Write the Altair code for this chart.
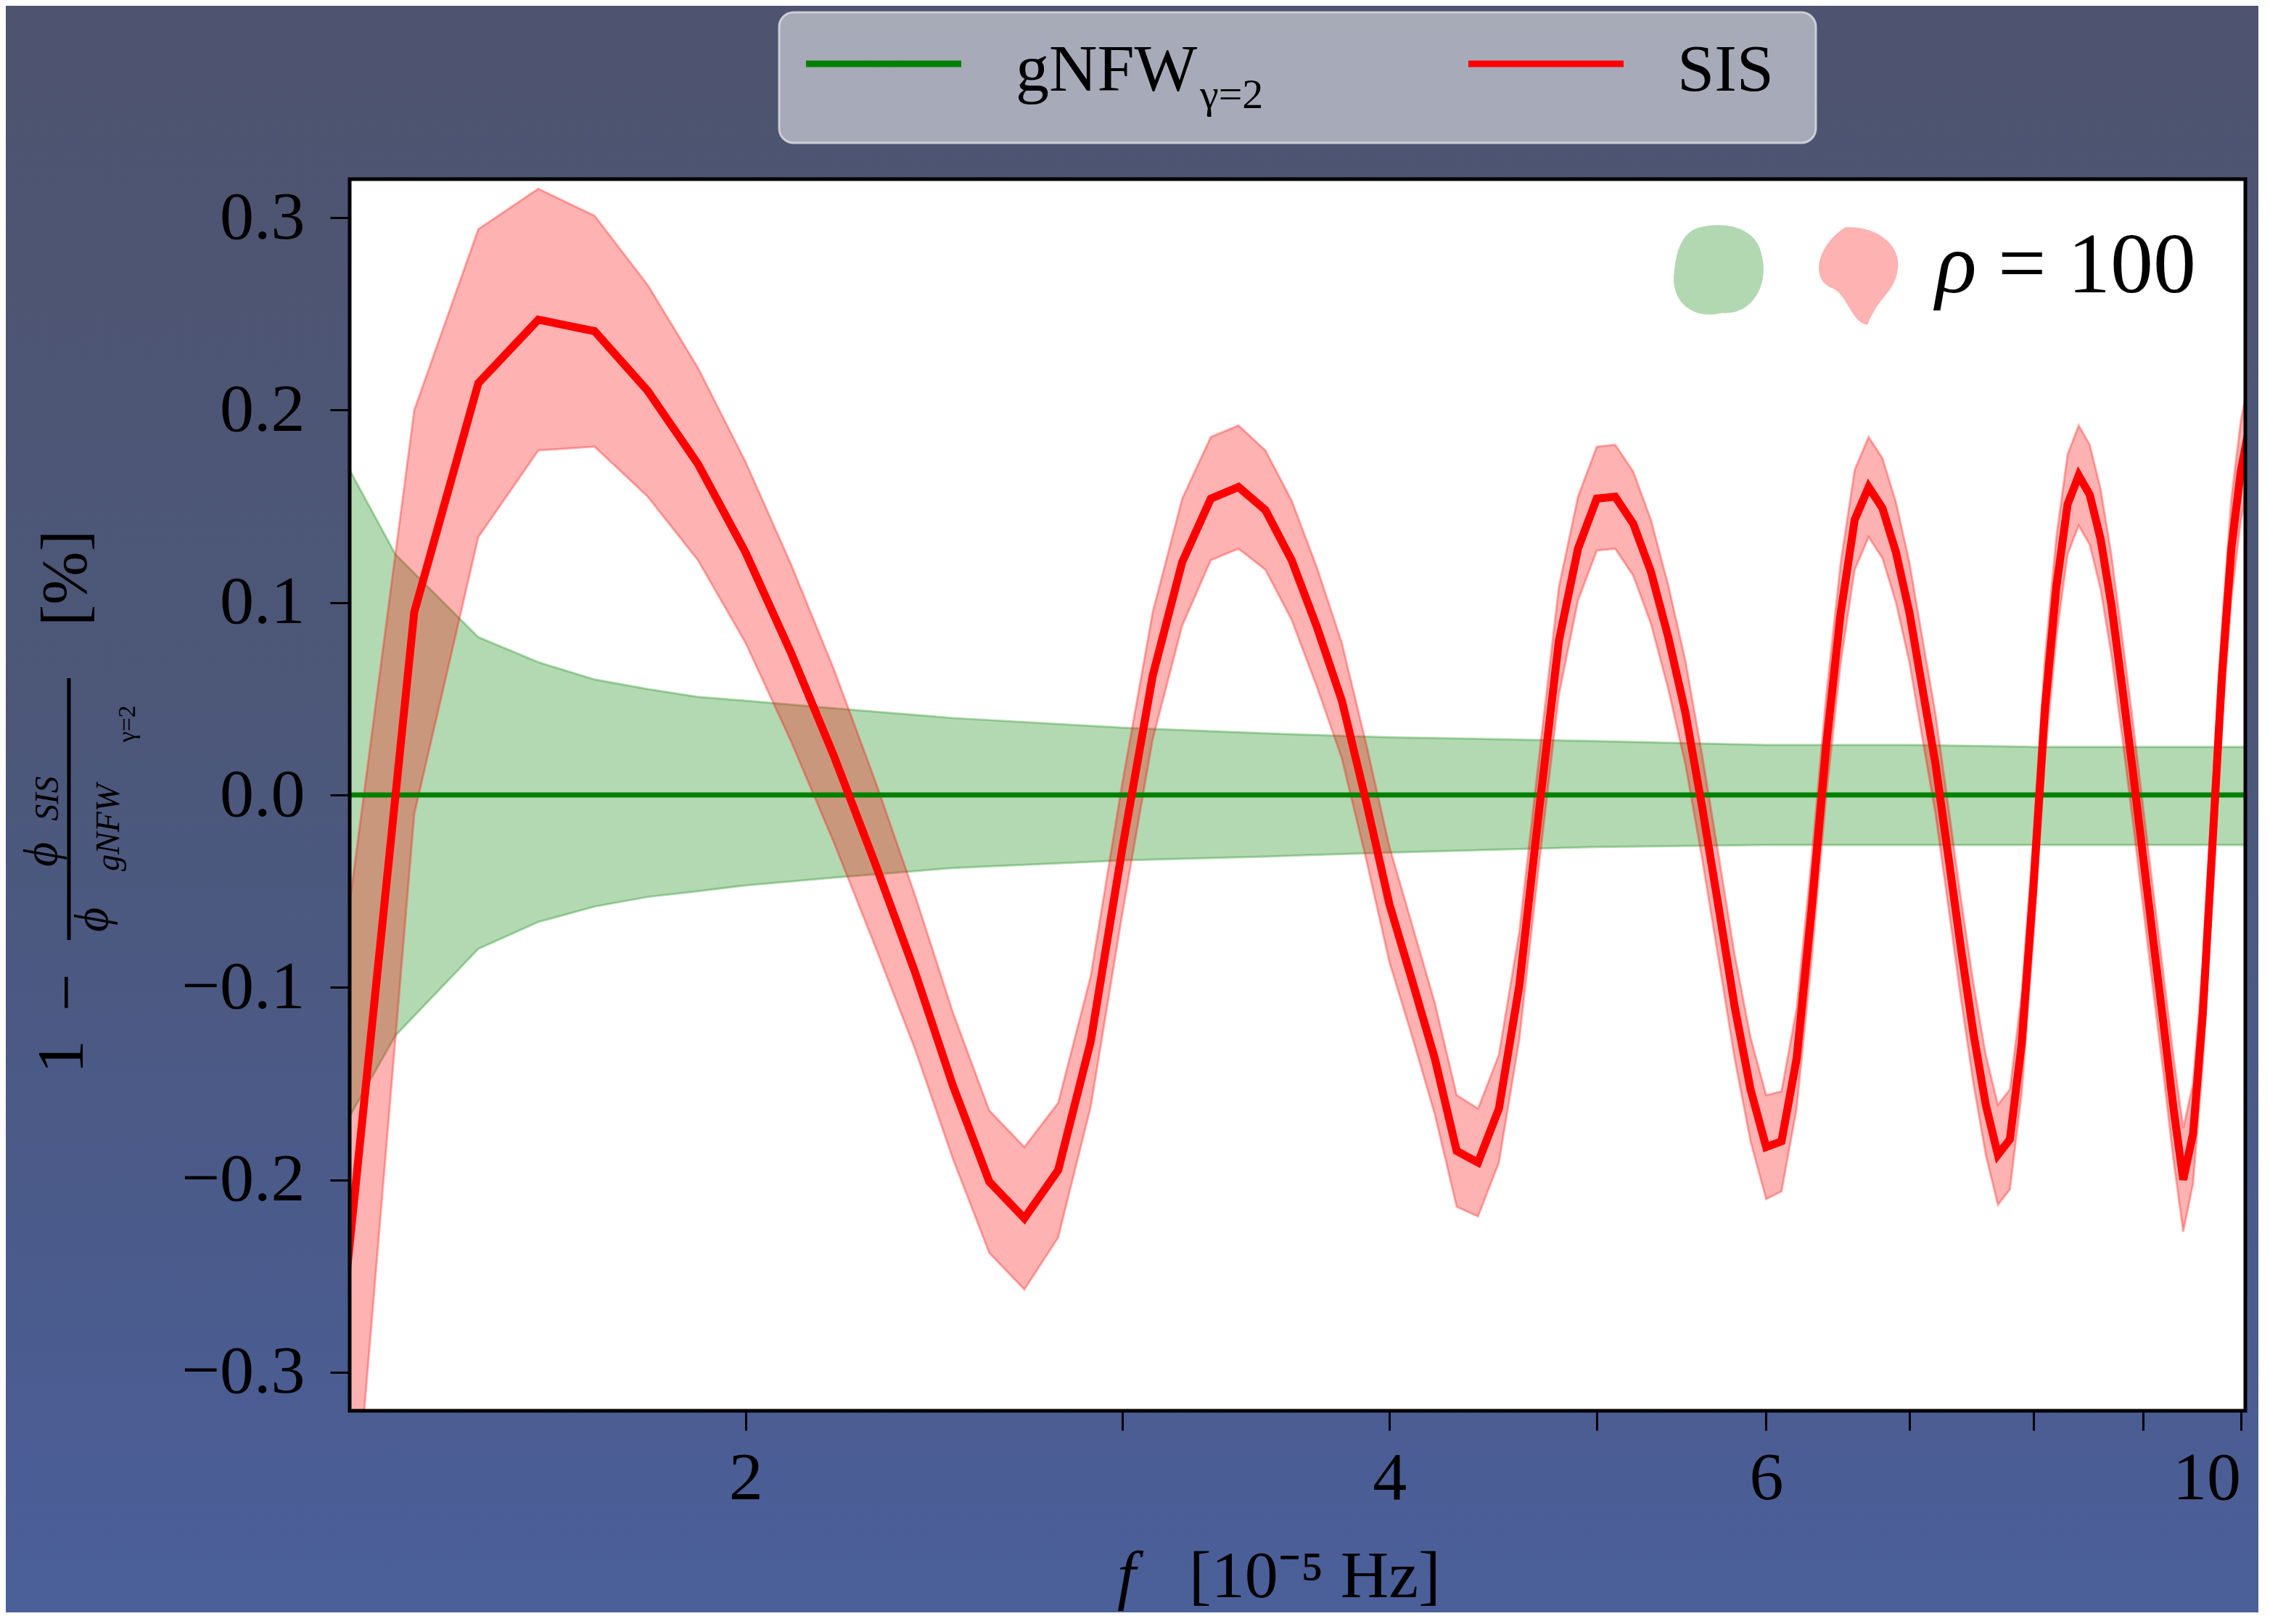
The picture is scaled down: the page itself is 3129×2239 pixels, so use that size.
import altair as alt
import pandas as pd

# ---------------- data ----------------
sis_f = [1.3, 1.4, 1.5, 1.6, 1.7, 1.8, 1.9, 2.0, 2.1, 2.2,
         2.3, 2.4, 2.5, 2.6, 2.7, 2.8, 2.9, 3.0, 3.1, 3.2,
         3.3, 3.4, 3.5, 3.6, 3.7, 3.8, 3.9, 4.0, 4.1, 4.2,
         4.3, 4.4, 4.5, 4.6, 4.7, 4.8, 4.9, 5.0, 5.1, 5.2,
         5.3, 5.4, 5.5, 5.6, 5.7, 5.8, 5.9, 6.0, 6.1, 6.2,
         6.3, 6.4, 6.5, 6.6, 6.7, 6.8, 6.9, 7.0, 7.1, 7.2,
         7.3, 7.4, 7.5, 7.6, 7.7, 7.8, 7.9, 8.0, 8.1, 8.2,
         8.3, 8.4, 8.5, 8.6, 8.7, 8.8, 8.9, 9.0, 9.1, 9.2,
         9.3, 9.4, 9.5, 9.6, 9.7, 9.8, 9.9, 10.0, 10.1]
sis_mid = [-0.255, 0.095, 0.214, 0.247, 0.241, 0.210, 0.172, 0.126, 0.074, 0.020,
           -0.036, -0.092, -0.151, -0.201, -0.220, -0.195, -0.128, -0.028, 0.062, 0.121,
           0.154, 0.160, 0.148, 0.122, 0.087, 0.049, -0.003, -0.057, -0.097, -0.137,
           -0.185, -0.191, -0.163, -0.099, -0.007, 0.080, 0.128, 0.154, 0.155, 0.141,
           0.116, 0.082, 0.043, -0.006, -0.058, -0.110, -0.153, -0.183, -0.180, -0.137,
           -0.060, 0.025, 0.094, 0.143, 0.160, 0.149, 0.126, 0.095, 0.055, 0.016,
           -0.032, -0.080, -0.124, -0.161, -0.187, -0.179, -0.129, -0.048, 0.045, 0.108,
           0.151, 0.166, 0.156, 0.133, 0.099, 0.057, 0.014, -0.031, -0.075, -0.118,
           -0.162, -0.200, -0.176, -0.114, -0.026, 0.062, 0.128, 0.168, 0.193]
sis_err = [0.182, 0.105, 0.080, 0.068, 0.060, 0.055, 0.050, 0.047, 0.046, 0.045,
           0.043, 0.040, 0.038, 0.037, 0.037, 0.035, 0.034, 0.034, 0.033, 0.033,
           0.032, 0.032, 0.031, 0.031, 0.031, 0.030, 0.030, 0.030, 0.029, 0.029,
           0.029, 0.028, 0.028, 0.028, 0.028, 0.028, 0.027, 0.027, 0.027, 0.027,
           0.027, 0.027, 0.027, 0.027, 0.027, 0.027, 0.027, 0.027, 0.026, 0.026,
           0.026, 0.026, 0.026, 0.026, 0.026, 0.026, 0.026, 0.026, 0.026, 0.026,
           0.026, 0.026, 0.026, 0.026, 0.026, 0.026, 0.026, 0.026, 0.026, 0.026,
           0.026, 0.026, 0.026, 0.026, 0.026, 0.026, 0.026, 0.026, 0.026, 0.026,
           0.027, 0.027, 0.026, 0.026, 0.026, 0.026, 0.026, 0.026, 0.026]

gnfw_f = [1.3, 1.372, 1.5, 1.6, 1.7, 1.8, 1.9, 2.0, 2.2, 2.5, 3.0, 3.5, 4.0, 5.0, 6.0, 7.0, 8.0, 10.1]
gnfw_hi = [0.173, 0.125, 0.082, 0.069, 0.060, 0.055, 0.051, 0.049, 0.045, 0.040,
           0.035, 0.032, 0.030, 0.028, 0.026, 0.026, 0.025, 0.025]
gnfw_lo = [-0.171, -0.125, -0.080, -0.066, -0.058, -0.053, -0.050, -0.047, -0.043, -0.038,
           -0.034, -0.032, -0.030, -0.027, -0.026, -0.026, -0.026, -0.026]
gnfw_mid = [0.0, 0.0, 0.0, 0.0, 0.0, 0.0, 0.0, 0.0, 0.0, 0.0,
            0.0, 0.0, 0.0, 0.0, 0.0, 0.0, 0.0, 0.0]

series_names = ["gNFW", "SIS"]
gnfw_subscript = "γ=2"
x_tick_values = [2, 3, 4, 5, 6, 7, 8, 9, 10]
x_tick_labelled = [2, 4, 6, 10]
y_tick_values = [-0.3, -0.2, -0.1, 0.0, 0.1, 0.2, 0.3]
x_domain = [1.306, 10.05]
y_domain = [-0.32, 0.32]
snr_text = "= 100"

# ---------------- tables ----------------
sis_df = pd.DataFrame({
    "f": sis_f,
    "mid": sis_mid,
    "lo": [m - e for m, e in zip(sis_mid, sis_err)],
    "hi": [m + e for m, e in zip(sis_mid, sis_err)],
})
gnfw_df = pd.DataFrame({"f": gnfw_f, "mid": gnfw_mid, "lo": gnfw_lo, "hi": gnfw_hi})
one = pd.DataFrame({"k": [0]})

# ---------------- layout ----------------
W, H = 2613, 1698
PAD = {"left": 474, "top": 239, "right": 18, "bottom": 278}
FONT = "Liberation Serif"
GREEN = "#008000"
RED = "#ff0000"

xscale = alt.Scale(type="log", domain=x_domain, nice=False, zero=False)
yscale = alt.Scale(domain=y_domain, nice=False, zero=False)

test = " || ".join(f"datum.value == {v}" for v in x_tick_labelled)
xaxis = alt.Axis(values=x_tick_values, labelExpr=f"({test}) ? format(datum.value, 'd') : ''",
                 title="", grid=False, domain=False, tickSize=27, tickWidth=3, tickColor="black",
                 labelFont=FONT, labelFontSize=94, labelColor="black", labelPadding=20,
                 labelOverlap=False, labelFlush=10, zindex=1)
yaxis = alt.Axis(values=y_tick_values, format=".1f", title="", grid=False, domain=False,
                 tickSize=27, tickWidth=3, tickColor="black", labelFont=FONT, labelFontSize=94,
                 labelColor="black", labelPadding=35, labelOverlap=False, labelFlush=False, zindex=1)

X = alt.X("f:Q", scale=xscale, axis=xaxis)

gradient = alt.LinearGradient(
    gradient="linear",
    stops=[alt.GradientStop(color="#4e546f", offset=0),
           alt.GradientStop(color="#4c5779", offset=0.45),
           alt.GradientStop(color="#4a5b8d", offset=0.8),
           alt.GradientStop(color="#4b5f9a", offset=1)],
    x1=0, x2=0, y1=0, y2=1)

bg = alt.Chart(one).mark_rect(fill=gradient).encode(
    x=alt.value(-PAD["left"]), x2=alt.value(W + PAD["right"]),
    y=alt.value(-PAD["top"]), y2=alt.value(H + PAD["bottom"]))
plotbg = alt.Chart(one).mark_rect(fill="white").encode(
    x=alt.value(0), x2=alt.value(W), y=alt.value(0), y2=alt.value(H))

green_band = alt.Chart(gnfw_df).mark_area(
    clip=True, fill=GREEN, fillOpacity=0.3, stroke=GREEN, strokeOpacity=0.3, strokeWidth=3
).encode(x=X, y=alt.Y("lo:Q", scale=yscale, axis=yaxis), y2="hi:Q")

red_band = alt.Chart(sis_df).mark_area(
    clip=True, fill=RED, fillOpacity=0.3, stroke=RED, strokeOpacity=0.3, strokeWidth=3
).encode(x=X, y=alt.Y("lo:Q", scale=yscale, axis=yaxis), y2="hi:Q")

green_line = alt.Chart(gnfw_df).mark_line(clip=True, color=GREEN, strokeWidth=7).encode(
    x=X, y=alt.Y("mid:Q", scale=yscale, axis=yaxis))
red_line = alt.Chart(sis_df).mark_line(clip=True, color=RED, strokeWidth=11).encode(
    x=X, y=alt.Y("mid:Q", scale=yscale, axis=yaxis))

frame = alt.Chart(one).mark_rect(fillOpacity=0, stroke="black", strokeWidth=5).encode(
    x=alt.value(0), x2=alt.value(W), y=alt.value(0), y2=alt.value(H))


def txt(text, x, y, size, angle=0, italic=False, align="center", baseline="middle"):
    kw = dict(text=text, font=FONT, fontSize=size, color="black", align=align, baseline=baseline)
    if angle:
        kw["angle"] = angle
    if italic:
        kw["fontStyle"] = "italic"
    return alt.Chart(one).mark_text(**kw).encode(x=alt.value(x), y=alt.value(y))


def rule(x, x2, y, y2, color, width):
    enc = dict(x=alt.value(x), y=alt.value(y))
    if x2 is not None:
        enc["x2"] = alt.value(x2)
    if y2 is not None:
        enc["y2"] = alt.value(y2)
    return alt.Chart(one).mark_rule(color=color, strokeWidth=width).encode(**enc)


# blobs beside rho = 100
blob_g = "M -0.45,-0.85 C 0.05,-1.0 0.75,-0.9 0.85,-0.3 C 1.0,0.3 0.65,0.9 0.05,0.85 C -0.55,1.0 -1.0,0.6 -0.9,0.0 C -0.85,-0.5 -0.7,-0.75 -0.45,-0.85 Z"
blob_r = "M -0.3,-0.95 C 0.3,-1.0 0.85,-0.6 0.75,-0.1 C 0.7,0.35 0.35,0.45 0.15,1.0 C -0.2,0.95 -0.25,0.35 -0.6,0.25 C -1.0,0.05 -0.85,-0.6 -0.3,-0.95 Z"
blobs = [
    alt.Chart(one).mark_point(shape=blob_g, filled=True, color="#b2d8b2", opacity=1, size=19000,
                              strokeWidth=0).encode(x=alt.value(1888), y=alt.value(126)),
    alt.Chart(one).mark_point(shape=blob_r, filled=True, color="#ffb2b2", opacity=1, size=19000,
                              strokeWidth=0).encode(x=alt.value(2082), y=alt.value(132)),
]

annot = [
    txt("ρ", 2186, 156, 118, italic=True, align="left", baseline="alphabetic"),
    txt(snr_text, 2272, 156, 118, align="left", baseline="alphabetic"),
]

# manual legend on top
legend_box = alt.Chart(one).mark_rect(
    fill="white", fillOpacity=0.5, stroke="#d4d6de", strokeOpacity=0.9, strokeWidth=3, cornerRadius=20
).encode(x=alt.value(592), x2=alt.value(2021), y=alt.value(-230), y2=alt.value(-50))
legend = [
    legend_box,
    rule(629, 843, -159, None, GREEN, 9),
    txt(series_names[0], 918, -122, 92, align="left", baseline="alphabetic"),
    txt(gnfw_subscript, 1172, -98, 58, align="left", baseline="alphabetic"),
    rule(1542, 1756, -159, None, RED, 9),
    txt(series_names[1], 1830, -122, 92, align="left", baseline="alphabetic"),
]

# y-axis title: 1 - phi_SIS / phi_gNFW_{gamma=2} [%]
ytitle = [
    txt("1", -396, 1210, 92, angle=270),
    txt("−", -388, 1121, 92, angle=270),
    rule(-387, None, 688, 1049, "black", 5),
    txt("ϕ", -424, 931, 66, angle=270, italic=True),
    txt("SIS", -416, 854, 46, angle=270, italic=True),
    txt("ϕ", -354, 1021, 66, angle=270, italic=True),
    txt("gNFW", -332, 894, 46, angle=270, italic=True),
    txt("γ=2", -306, 751, 34, angle=270),
    txt("[%]", -390, 550, 88, angle=270),
]

# x-axis title: f [10^-5 Hz]
xtitle = [
    txt("f", 1058, 1955, 92, italic=True, align="left", baseline="alphabetic"),
    txt("[10⁻⁵ Hz]", 1157, 1955, 92, align="left", baseline="alphabetic"),
]

chart = alt.layer(
    bg, plotbg, green_band, red_band, green_line, red_line, frame,
    *blobs, *annot, *legend, *ytitle, *xtitle
).properties(
    width=W, height=H,
    autosize=alt.AutoSizeParams(type="none"),
    padding=PAD,
    background="#4c5880",
).configure_view(strokeWidth=0)

chart.save("out.html", embed_options={"renderer": "svg", "actions": False})
